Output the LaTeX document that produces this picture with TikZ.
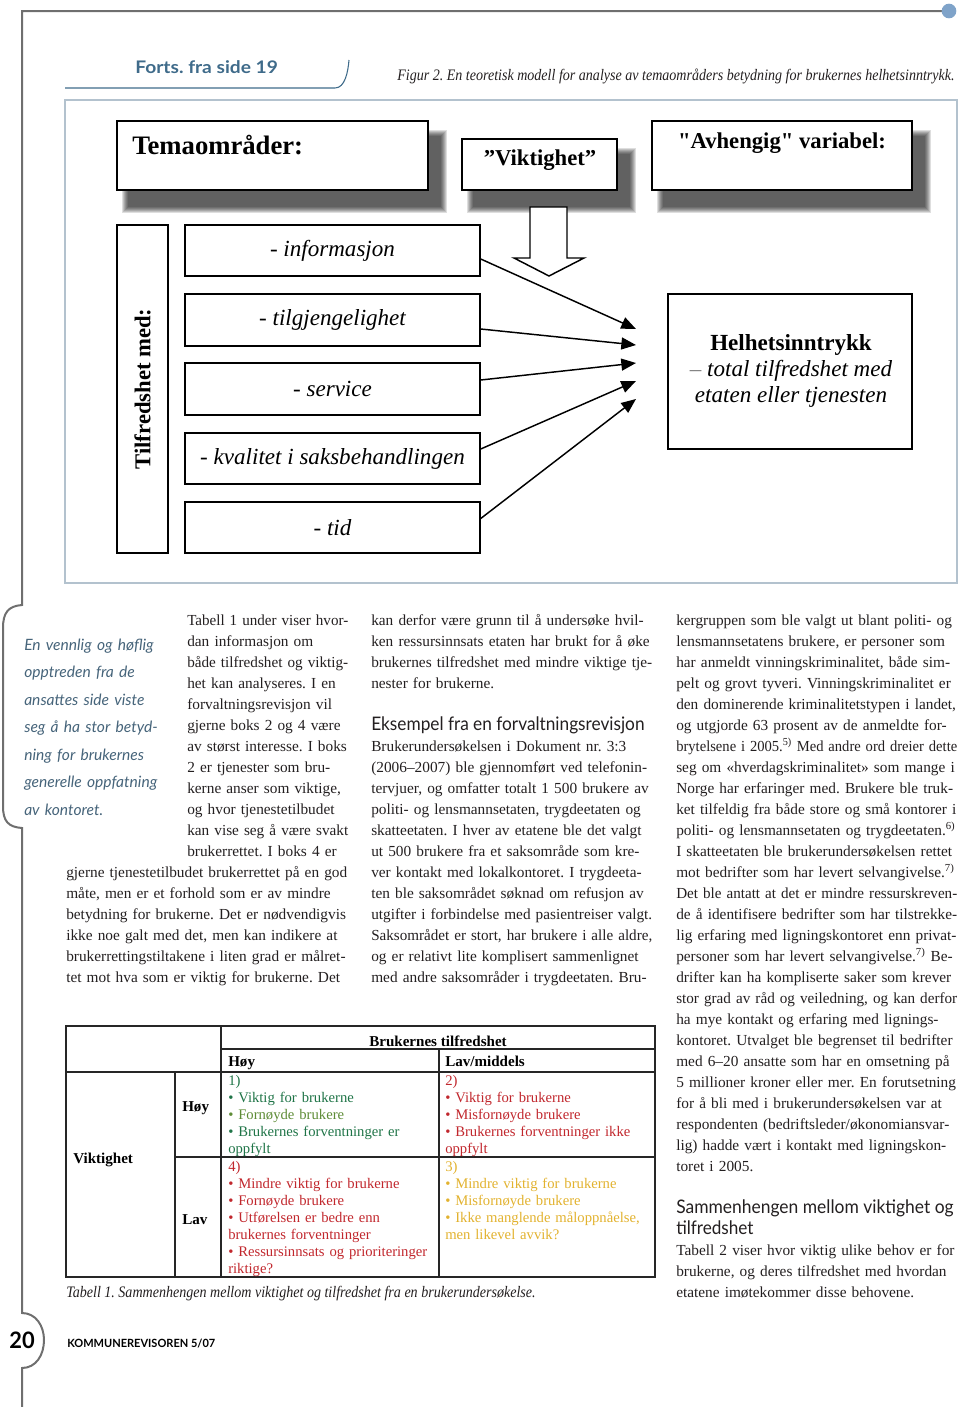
\documentclass[tikz,border=0pt]{standalone}
\usepackage{fontspec}
\usepackage{graphicx}
\setmainfont{Liberation Serif}
\newfontfamily\gillfont{Lato}
\newfontfamily\rawserif{Liberation Serif}[Ligatures=TeXOff]
\usetikzlibrary{positioning,fit,calc,arrows.meta,backgrounds}
\frenchspacing

\definecolor{rulegray}{HTML}{6F6F6F}
\definecolor{dotblue}{HTML}{7FA3C9}
\definecolor{headblue}{HTML}{3F6B8A}
\definecolor{quoteblue}{HTML}{46647A}
\definecolor{framegray}{HTML}{B3C2CE}
\definecolor{bodyblack}{HTML}{231F20}
\definecolor{tgreen}{HTML}{1F7447}
\definecolor{tolive}{HTML}{5E8C36}
\definecolor{tred}{HTML}{C1272D}
\definecolor{tyellow}{HTML}{E2B22F}

% justified line (squeezed if too long), last line of a block, width fit
\newsavebox\linebox
\newcommand\jline[1]{\sbox\linebox{#1}%
  \ifdim\wd\linebox>\hsize\resizebox{\hsize}{\height}{\usebox\linebox}%
  \else\makebox[\hsize][s]{#1}\fi}
\newcommand\jl[1]{\jline{#1}\\}
\newcommand\jlend[1]{\jline{#1}}
\newcommand\fitw[2]{\resizebox{#1}{\height}{#2}}
\newcommand\noindt{\setlength{\parindent}{0pt}}

\begin{document}
\begin{tikzpicture}[x=0.75pt, y=-0.75pt,
    pagerule/.style={draw=rulegray, line width=1.5pt},
    figbox/.style={draw=black, line width=1.1pt, fill=white, inner sep=0pt},
    boxlabel/.style={inner sep=0pt, font=\fontsize{17.3}{20}\selectfont\itshape},
    headlabel/.style={inner sep=0pt, font=\fontsize{17}{20}\selectfont\bfseries},
    conn/.style={line width=1.1pt, -{Triangle[length=11pt, width=9pt]}},
    bodycol/.style={anchor=north west, inner sep=0pt, text width=#1, align=left, text=bodyblack,
        font={\noindt\fontsize{11.5}{15.75}\selectfont}},
    subhead/.style={anchor=base west, inner sep=0pt, text=bodyblack, font=\gillfont\fontsize{14}{15.75}\selectfont},
    cell/.style={anchor=north west, inner sep=0pt, text width=205pt, align=left,
        font={\noindt\fontsize{11}{12.75}\selectfont}},
    cellhead/.style={inner sep=0pt, text=black, font=\fontsize{11.3}{12.75}\selectfont\bfseries},
    tableline/.style={draw=black!85, line width=0.8pt},
]
\useasboundingbox (0,0) rectangle (960,1407);

% === Page rules ===
\draw[pagerule] (942,11) -- (22,11) -- (22,605)
    .. controls (8,606) and (3,613) .. (3,628) -- (3,806)
    .. controls (3,821) and (8,827) .. (22,828) -- (22,1313)
    .. controls (36,1313) and (44,1326) .. (44,1340)
    .. controls (44,1355) and (36,1368) .. (22,1368) -- (22,1407);
\fill[dotblue] (949,11) circle (5.5pt);

% === Header ===
\node[anchor=base west, inner sep=0pt, text=headblue, font=\gillfont\bfseries\fontsize{13}{15}\selectfont]
    (forts) at (135,73) {\fitw{107pt}{Forts. fra side 19}};
\draw[headblue, line width=0.8pt] (65,88) -- (335,88) .. controls (345,88) and (348,72) .. (349,60);
\node[anchor=base west, inner sep=0pt, text=bodyblack, font=\fontsize{12}{14}\selectfont\itshape]
    (figcap) at (397,80) {\fitw{418pt}{Figur 2. En teoretisk modell for analyse av temaområders betydning for brukernes helhetsinntrykk.}};

% === Figure 2 ===
\draw[framegray, line width=0.8pt] (65,100) rectangle (957,583);

\node[figbox, fit={(117,121) (428,190)}] (tema) {};
\node[figbox, fit={(462,139) (617,190)}] (vikt) {};
\node[figbox, fit={(652,121) (912,190)}] (avh) {};

% blurred shadows
\begin{scope}[on background layer]
\foreach \b in {tema,vikt,avh} {
    \foreach \s in {0,...,6} {
        \fill[black, opacity=0.13] ($(\b.north west)+(6+\s,10+\s)$) rectangle ($(\b.south east)+(18-\s,22-\s)$);
    }
}
\end{scope}

\node[anchor=west, inner sep=0pt, font=\fontsize{20}{22}\selectfont\bfseries] (temalbl) at (132,145) {Temaområder:};
\node[headlabel] (viktlbl) at (540,160) {”Viktighet”};
\node[headlabel, font=\rawserif\bfseries\fontsize{17}{20}\selectfont] (avhlbl) at (782,143) {"Avhengig" variabel:};

\node[figbox, fit={(117,225) (168,553)}] (vert) {};
\node[headlabel, rotate=90] (vertlbl) at (vert) {Tilfredshet med:};

\node[figbox, fit={(185,225) (480,276)}] (info) {};
\node[figbox, fit={(185,294) (480,346)}] (tilg) {};
\node[figbox, fit={(185,363) (480,415)}] (serv) {};
\node[figbox, fit={(185,433) (480,484)}] (kval) {};
\node[figbox, fit={(185,502) (480,553)}] (tid) {};
\node[boxlabel] at (info) {- informasjon};
\node[boxlabel] at (tilg) {- tilgjengelighet};
\node[boxlabel] at (serv) {- service};
\node[boxlabel] at (kval) {- kvalitet i saksbehandlingen};
\node[boxlabel] at (tid) {- tid};

\node[figbox, fit={(668,294) (912,449)}] (helhet) {};
\node[inner sep=0pt, align=center, font=\fontsize{17.3}{19.8}\selectfont] (helhetlbl) at (791,371)
    {\textbf{Helhetsinntrykk}\\ \textit{{\color{gray}–} total tilfredshet med}\\ \textit{etaten eller tjenesten}};

% hollow arrow under "Viktighet"
\draw[line width=1.1pt, fill=white] (530,207) -- (567,207) -- (567,258) -- (584,258)
    -- (549,276) -- (514,258) -- (530,258) -- cycle;

% arrows into the overall impression
\coordinate (tip1) at (636,329);
\coordinate (tip2) at (636,345);
\coordinate (tip3) at (636,363);
\coordinate (tip4) at (636,381);
\coordinate (tip5) at (636,399);
\draw[conn] ($(info.east)+(0,8.5)$) -- (tip1);
\draw[conn] ($(tilg.east)+(0,9)$) -- (tip2);
\draw[conn] ($(serv.east)+(0,-9)$) -- (tip3);
\draw[conn] ($(kval.east)+(0,-9.5)$) -- (tip4);
\draw[conn] ($(tid.east)+(0,-9)$) -- (tip5);

% === Pull quote ===
\node[anchor=north west, inner sep=0pt, text width=160pt, align=left, text=quoteblue,
    font={\noindt\gillfont\itshape\fontsize{11.7}{20.6}\selectfont}] (quote) at (24,630.8)
    {\strut En vennlig og høflig\\ opptreden fra de\\ ansattes side viste\\ seg å ha stor betyd-\\
     ning for brukernes\\ generelle oppfatning\\ av kontoret.};

% === Column 1 ===
\node[bodycol=120.75pt] (col1a) at (187,610.3) {%
\jl{\strut Tabell 1 under viser hvor-}
\jl{dan informasjon om}
\jl{både tilfredshet og viktig-}
\jl{het kan analyseres. I en}
\jl{forvaltningsrevisjon vil}
\jl{gjerne boks 2 og 4 være}
\jl{av størst interesse. I boks}
\jl{2 er tjenester som bru-}
\jl{kerne anser som viktige,}
\jl{og hvor tjenestetilbudet}
\jl{kan vise seg å være svakt}
\jlend{brukerrettet. I boks 4 er}};
\node[bodycol=211.5pt] (col1b) at (66,862.3) {%
\jl{\strut gjerne tjenestetilbudet brukerrettet på en god}
\jl{måte, men er et forhold som er av mindre}
\jl{betydning for brukerne. Det er nødvendigvis}
\jl{ikke noe galt med det, men kan indikere at}
\jl{brukerrettingstiltakene i liten grad er målret-}
\jlend{tet mot hva som er viktig for brukerne. Det}};

% === Column 2 ===
\node[bodycol=210.75pt] (col2a) at (371,610.3) {%
\jl{\strut kan derfor være grunn til å undersøke hvil-}
\jl{ken ressursinnsats etaten har brukt for å øke}
\jl{brukernes tilfredshet med mindre viktige tje-}
nester for brukerne.};
\node[subhead] (head1) at (371,730) {\fitw{205pt}{Eksempel fra en forvaltningsrevisjon}};
\node[bodycol=210.75pt] (col2b) at (371,736.3) {%
\jl{\strut Brukerundersøkelsen i Dokument nr. 3:3}
\jl{(2006–2007) ble gjennomført ved telefonin-}
\jl{tervjuer, og omfatter totalt 1 500 brukere av}
\jl{politi- og lensmannsetaten, trygdeetaten og}
\jl{skatteetaten. I hver av etatene ble det valgt}
\jl{ut 500 brukere fra et saksområde som kre-}
\jl{ver kontakt med lokalkontoret. I trygdeeta-}
\jl{ten ble saksområdet søknad om refusjon av}
\jl{utgifter i forbindelse med pasientreiser valgt.}
\jl{Saksområdet er stort, har brukere i alle aldre,}
\jl{og er relativt lite komplisert sammenlignet}
\jlend{med andre saksområder i trygdeetaten. Bru-}};

% === Column 3 ===
\node[bodycol=210.75pt] (col3a) at (676,610.3) {%
\jl{\strut kergruppen som ble valgt ut blant politi- og}
\jl{lensmannsetatens brukere, er personer som}
\jl{har anmeldt vinningskriminalitet, både sim-}
\jl{pelt og grovt tyveri. Vinningskriminalitet er}
\jl{den dominerende kriminalitetstypen i landet,}
\jl{og utgjorde 63 prosent av de anmeldte for-}
\jl{brytelsene i 2005.\textsuperscript{5)} Med andre ord dreier dette}
\jl{seg om «hverdagskriminalitet» som mange i}
\jl{Norge har erfaringer med. Brukere ble truk-}
\jl{ket tilfeldig fra både store og små kontorer i}
\jl{politi- og lensmannsetaten og trygdeetaten.\textsuperscript{6)}}
\jl{I skatteetaten ble brukerundersøkelsen rettet}
\jl{mot bedrifter som har levert selvangivelse.\textsuperscript{7)}}
\jl{Det ble antatt at det er mindre ressurskreven-}
\jl{de å identifisere bedrifter som har tilstrekke-}
\jl{lig erfaring med ligningskontoret enn privat-}
\jl{personer som har levert selvangivelse.\textsuperscript{7)} Be-}
\jl{drifter kan ha kompliserte saker som krever}
\jl{stor grad av råd og veiledning, og kan derfor}
\jl{ha mye kontakt og erfaring med lignings-}
\jl{kontoret. Utvalget ble begrenset til bedrifter}
\jl{med 6–20 ansatte som har en omsetning på}
\jl{5 millioner kroner eller mer. En forutsetning}
\jl{for å bli med i brukerundersøkelsen var at}
\jl{respondenten (bedriftsleder/økonomiansvar-}
\jl{lig) hadde vært i kontakt med ligningskon-}
toret i 2005.};
\node[subhead] (head2) at (676,1213) {\fitw{208pt}{Sammenhengen mellom viktighet og}};
\node[subhead] (head3) at (676,1234) {\fitw{58pt}{tilfredshet}};
\node[bodycol=210.75pt] (col3b) at (676,1240.3) {%
\jl{\strut Tabell 2 viser hvor viktig ulike behov er for}
\jl{brukerne, og deres tilfredshet med hvordan}
etatene imøtekommer disse behovene.};

% === Table 1 ===
\draw[tableline] (66,1026) rectangle (655,1277);
\draw[tableline] (221,1026) -- (221,1277);
\draw[tableline] (221,1049) -- (655,1049);
\draw[tableline] (66,1072) -- (655,1072);
\draw[tableline] (175,1072) -- (175,1277);
\draw[tableline] (439,1049) -- (439,1277);
\draw[tableline] (175,1157) -- (655,1157);

\node[cellhead] (thead) at (438,1041) {Brukernes tilfredshet};
\node[cellhead, anchor=base west] (thoy) at (228,1066) {Høy};
\node[cellhead, anchor=base west] (tlav) at (445,1066) {Lav/middels};
\node[cellhead, anchor=base west] (tvikt) at (73,1163) {Viktighet};
\node[cellhead, anchor=base west] (rhoy) at (182,1111) {Høy};
\node[cellhead, anchor=base west] (rlav) at (182,1224) {Lav};

\node[cell, text=tgreen] (c1) at (228,1073) {\strut 1)\\ • Viktig for brukerne\\
    \textcolor{tolive}{• Fornøyde brukere}\\ • Brukernes forventninger er\\ oppfylt};
\node[cell, text=tred] (c2) at (445,1073) {\strut 2)\\ • Viktig for brukerne\\
    • Misfornøyde brukere\\ • Brukernes forventninger ikke\\ oppfylt};
\node[cell, text=tred] (c4) at (228,1159) {\strut 4)\\ • Mindre viktig for brukerne\\
    • Fornøyde brukere\\ • Utførelsen er bedre enn\\ brukernes forventninger\\
    • Ressursinnsats og prioriteringer\\ riktige?};
\node[cell, text=tyellow] (c3) at (445,1159) {\strut 3)\\ • Mindre viktig for brukerne\\
    • Misfornøyde brukere\\ • Ikke manglende måloppnåelse,\\ men likevel avvik?};

\node[anchor=base west, inner sep=0pt, text=bodyblack, font=\fontsize{12}{14}\selectfont\itshape]
    (tabcap) at (66,1297) {\fitw{352pt}{Tabell 1. Sammenhengen mellom viktighet og tilfredshet fra en brukerundersøkelse.}};

% === Footer ===
\node[inner sep=0pt, text=black, font=\gillfont\bfseries\fontsize{17}{19}\selectfont] (pagenum) at (22,1340) {\fitw{19pt}{20}};
\node[anchor=base west, inner sep=0pt, text=black, font=\gillfont\bfseries\fontsize{8.5}{10}\selectfont]
    (journal) at (67,1347) {\fitw{111pt}{KOMMUNEREVISOREN 5/07}};

\end{tikzpicture}
\end{document}
